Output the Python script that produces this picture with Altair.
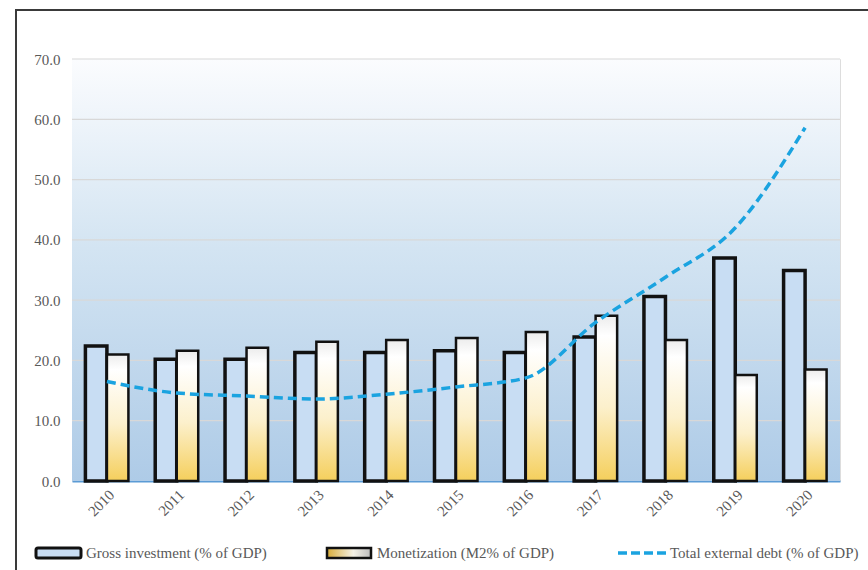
import altair as alt
import pandas as pd

years = ["2010", "2011", "2012", "2013", "2014", "2015", "2016", "2017", "2018", "2019", "2020"]
gross = [22.4, 20.2, 20.2, 21.3, 21.3, 21.6, 21.3, 23.9, 30.6, 37.0, 34.9]
monet = [21.0, 21.6, 22.1, 23.1, 23.4, 23.7, 24.7, 27.4, 23.4, 17.6, 18.5]
debt = [16.5, 14.6, 14.1, 13.6, 14.4, 15.6, 17.1, 26.3, 33.8, 42.0, 58.6]
grid_vals = [10, 20, 30, 40, 50, 60, 70]

series_names = ["Gross investment (% of GDP)", "Monetization (M2% of GDP)", "Total external debt (% of GDP)"]

W, H = 768, 422
FONT = "Liberation Serif"
TXT = "#595959"

bars_df = pd.DataFrame(
    [{"year": y, "series": "gross", "value": v} for y, v in zip(years, gross)]
    + [{"year": y, "series": "monet", "value": v} for y, v in zip(years, monet)]
)
line_df = pd.DataFrame({"year": years, "value": debt})
grid_df = pd.DataFrame({"value": grid_vals})
one = pd.DataFrame({"a": [0]})

x_axis = alt.Axis(
    title=None, ticks=False, domain=True, domainColor="#5b9bd5", domainWidth=2,
    labelAngle=-45, labelFont=FONT, labelFontSize=15, labelColor=TXT, labelPadding=6,
)
x_enc = alt.X(
    "year:N",
    sort=years,
    scale=alt.Scale(paddingInner=0.384, paddingOuter=0.192),
    axis=x_axis,
)
y_scale = alt.Scale(domain=[0, 70], nice=False)
y_axis = alt.Axis(
    title=None, values=[0, 10, 20, 30, 40, 50, 60, 70], format=".1f", grid=False,
    domain=False, ticks=False, labelFont=FONT, labelFontSize=15, labelColor=TXT,
    labelPadding=12,
)
y_enc = alt.Y("value:Q", scale=y_scale, axis=y_axis)
xoff = alt.XOffset("series:N", scale=alt.Scale(domain=["gross", "monet"], paddingInner=0, paddingOuter=0))

bg = alt.Chart(one).mark_rect(
    fill=alt.Gradient(
        gradient="linear", x1=0, y1=0, x2=0, y2=1,
        stops=[
            alt.GradientStop(offset=0, color="#fbfcfe"),
            alt.GradientStop(offset=0.45, color="#d3e4f2"),
            alt.GradientStop(offset=1, color="#aecbe7"),
        ],
    )
).encode(x=alt.value(0), x2=alt.value(W), y=alt.value(0), y2=alt.value(H))

grid = alt.Chart(grid_df).mark_rule(color="#d8d8d8", strokeWidth=1.2).encode(
    y=alt.Y("value:Q", scale=y_scale, axis=y_axis)
)

gross_bars = alt.Chart(bars_df).transform_filter(alt.datum.series == "gross").mark_bar(
    fill="#c8ddf3", stroke="#111111", strokeWidth=3.5
).encode(x=x_enc, y=y_enc, xOffset=xoff)

monet_bars = alt.Chart(bars_df).transform_filter(alt.datum.series == "monet").mark_bar(
    fill=alt.Gradient(
        gradient="linear", x1=0, y1=0, x2=0, y2=1,
        stops=[
            alt.GradientStop(offset=0, color="#ececec"),
            alt.GradientStop(offset=0.12, color="#ffffff"),
            alt.GradientStop(offset=0.55, color="#fcf0cc"),
            alt.GradientStop(offset=1, color="#f5cf5c"),
        ],
    ),
    stroke="#111111", strokeWidth=2.5,
).encode(x=x_enc, y=y_enc, xOffset=xoff)

debt_line = alt.Chart(line_df).mark_line(
    color="#1aa3e0", strokeWidth=3.5, strokeDash=[9, 5], interpolate="monotone"
).encode(x=x_enc, y=y_enc)

# legend
LY = 494
leg_gross_sym = alt.Chart(one).mark_rect(
    fill="#c8ddf3", stroke="#111111", strokeWidth=3, cornerRadius=2
).encode(x=alt.value(-36), x2=alt.value(9), y=alt.value(LY - 5), y2=alt.value(LY + 5))
leg_monet_sym = alt.Chart(one).mark_rect(
    fill=alt.Gradient(
        gradient="linear", x1=0, y1=0, x2=1, y2=0,
        stops=[
            alt.GradientStop(offset=0, color="#d9ad3a"),
            alt.GradientStop(offset=0.6, color="#f4f1e6"),
            alt.GradientStop(offset=1, color="#bdbdbd"),
        ],
    ),
    stroke="#111111", strokeWidth=2.5,
).encode(x=alt.value(255), x2=alt.value(299), y=alt.value(LY - 5), y2=alt.value(LY + 5))
leg_line_sym = alt.Chart(one).mark_rule(
    color="#1aa3e0", strokeWidth=3.5, strokeDash=[9, 4]
).encode(x=alt.value(546), x2=alt.value(594), y=alt.value(LY))

def leg_text(label, xpos):
    return alt.Chart(one).mark_text(
        align="left", baseline="middle", font=FONT, fontSize=15, color=TXT
    ).encode(x=alt.value(xpos), y=alt.value(LY), text=alt.value(label))

frame = alt.Chart(one).mark_rect(
    fill=None, stroke="#3a3a3a", strokeWidth=2
).encode(x=alt.value(-56), x2=alt.value(820), y=alt.value(-49), y2=alt.value(540))

chart = alt.layer(
    bg, grid, gross_bars, monet_bars, debt_line,
    leg_gross_sym, leg_monet_sym, leg_line_sym,
    leg_text(series_names[0], 14), leg_text(series_names[1], 305), leg_text(series_names[2], 598),
    frame,
).resolve_scale(y="shared").properties(
    width=W, height=H,
    autosize=alt.AutoSizeParams(type="none"),
    padding={"left": 72, "top": 59, "right": 28, "bottom": 89},
).configure_view(stroke=None).configure(background="white")

chart.save("out.html", embed_options={"renderer": "svg", "actions": False})
